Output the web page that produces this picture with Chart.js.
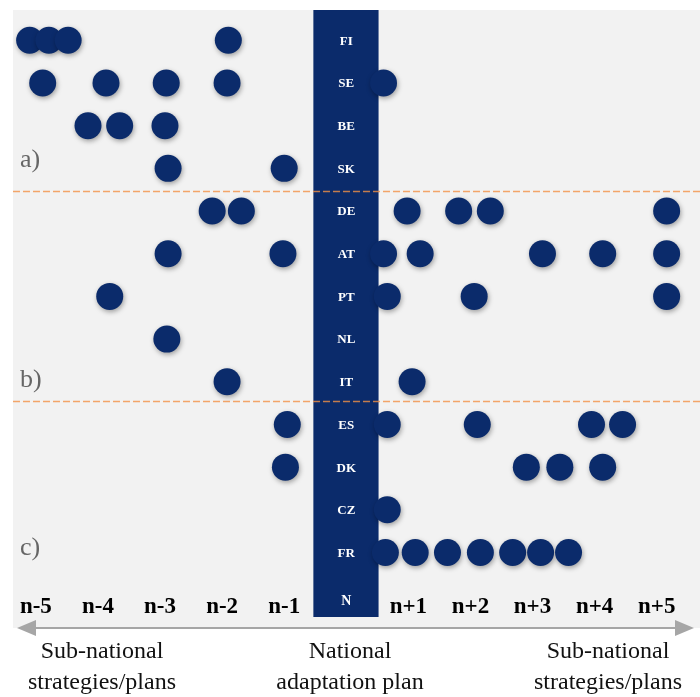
<!DOCTYPE html>
<html>
<head>
<meta charset="utf-8">
<script src="https://cdn.jsdelivr.net/npm/chart.js@4.4.1/dist/chart.umd.min.js"></script>
<style>
  html, body { margin: 0; padding: 0; background: #fff; }
  #wrap { width: 700px; height: 697px; position: relative; }
</style>
</head>
<body>
<div id="wrap"><canvas id="c"></canvas></div>
<script>
// rows top to bottom, columns n-5 .. n+5 (0 = national plan year)
const countries = ['FI', 'SE', 'BE', 'SK', 'DE', 'AT', 'PT', 'NL', 'IT', 'ES', 'DK', 'CZ', 'FR'];
const xLabels = ['n-5', 'n-4', 'n-3', 'n-2', 'n-1', 'N', 'n+1', 'n+2', 'n+3', 'n+4', 'n+5'];

// dot positions per country, in column units
const FI = [-5.10, -4.79, -4.48, -1.90];
const SE = [-4.89, -3.87, -2.90, -1.92, 0.60];
const BE = [-4.16, -3.65, -2.92];
const SK = [-2.87, -1.00];
const DE = [-2.16, -1.69, 0.98, 1.81, 2.32, 5.16];
const AT = [-2.87, -1.02, 0.60, 1.19, 3.16, 4.13, 5.16];
const PT = [-3.81, 0.66, 2.06, 5.16];
const NL = [-2.89];
const IT = [-1.92, 1.06];
const ES = [-0.95, 0.66, 2.11, 3.95, 4.45];
const DK = [-0.98, 2.90, 3.44, 4.13];
const CZ = [0.66];
const FR = [0.63, 1.11, 1.63, 2.16, 2.68, 3.13, 3.58];
const rows = [FI, SE, BE, SK, DE, AT, PT, NL, IT, ES, DK, CZ, FR];

const groups = ['a)', 'b)', 'c)'];
const groupRows = [2.8, 7.96, 11.9];
const dividers = [3.52, 8.45];

const NAVY = '#0b2b6b';
const SERIF = '"Liberation Serif", "Times New Roman", serif';

const points = [];
rows.forEach((xs, r) => xs.forEach(x => points.push({ x, y: r })));

const panel = {
  id: 'panel',
  beforeDraw(chart) {
    const { ctx, scales: { x } } = chart;
    ctx.save();
    ctx.fillStyle = '#fff';
    ctx.fillRect(0, 0, chart.width, chart.height);
    ctx.fillStyle = '#f2f2f2';
    ctx.fillRect(13, 10, chart.width - 13, 628 - 10);
    // national plan band
    const bl = x.getPixelForValue(-0.53), br = x.getPixelForValue(0.52);
    ctx.fillStyle = NAVY;
    ctx.fillRect(bl, 10, br - bl, 617 - 10);
    ctx.restore();
  },
  beforeDatasetsDraw(chart) {
    const { ctx, scales: { x, y } } = chart;
    ctx.save();
    ctx.fillStyle = '#fff';
    ctx.font = 'bold 13px ' + SERIF;
    ctx.textAlign = 'center';
    ctx.textBaseline = 'middle';
    countries.forEach((c, i) => ctx.fillText(c, x.getPixelForValue(0), y.getPixelForValue(i) + 1));
    ctx.fillStyle = '#666';
    ctx.font = '26px ' + SERIF;
    ctx.textAlign = 'left';
    groups.forEach((g, i) => ctx.fillText(g, 20, y.getPixelForValue(groupRows[i])));
    ctx.strokeStyle = 'rgba(242,145,70,0.8)';
    ctx.lineWidth = 1.5;
    ctx.setLineDash([7, 3]);
    dividers.forEach(d => {
      const py = Math.round(y.getPixelForValue(d)) + 0.5;
      ctx.beginPath();
      ctx.moveTo(13, py);
      ctx.lineTo(chart.width, py);
      ctx.stroke();
    });
    ctx.restore();
    // soft shadow under the dots
    ctx.save();
    ctx.shadowColor = 'rgba(0,0,0,0.35)';
    ctx.shadowBlur = 5;
    ctx.shadowOffsetX = 1;
    ctx.shadowOffsetY = 2;
  },
  afterDatasetsDraw(chart) {
    chart.ctx.restore();
  },
  afterDraw(chart) {
    const { ctx } = chart;
    const ay = 628;
    ctx.save();
    ctx.strokeStyle = '#a6a6a6';
    ctx.fillStyle = '#a6a6a6';
    ctx.lineWidth = 2;
    ctx.beginPath();
    ctx.moveTo(30, ay);
    ctx.lineTo(680, ay);
    ctx.stroke();
    ctx.beginPath();
    ctx.moveTo(17, ay); ctx.lineTo(36, ay - 8); ctx.lineTo(36, ay + 8); ctx.closePath();
    ctx.fill();
    ctx.beginPath();
    ctx.moveTo(694, ay); ctx.lineTo(675, ay - 8); ctx.lineTo(675, ay + 8); ctx.closePath();
    ctx.fill();
    ctx.fillStyle = '#111';
    ctx.font = '24px ' + SERIF;
    ctx.textAlign = 'center';
    ctx.textBaseline = 'middle';
    [[102, 'Sub-national', 'strategies/plans'], [350, 'National', 'adaptation plan'], [608, 'Sub-national', 'strategies/plans']]
      .forEach(([cx, l1, l2]) => {
        ctx.fillText(l1, cx, 652);
        ctx.fillText(l2, cx, 683);
      });
    ctx.restore();
  }
};

const noPad = s => { s.paddingLeft = 0; s.paddingRight = 0; s.paddingTop = 0; s.paddingBottom = 0; };

new Chart(document.getElementById('c'), {
  type: 'scatter',
  data: {
    datasets: [{
      data: points,
      backgroundColor: NAVY,
      borderWidth: 0,
      pointRadius: 13.5,
      pointHoverRadius: 13.5,
      clip: false
    }]
  },
  plugins: [panel],
  options: {
    responsive: true,
    maintainAspectRatio: false,
    animation: false,
    events: [],
    layout: { padding: { left: 13, top: 10, right: 0, bottom: 62 } },
    plugins: { legend: { display: false }, tooltip: { enabled: false } },
    scales: {
      x: {
        type: 'linear',
        min: -5.36,
        max: 5.48,
        afterBuildTicks: s => { s.ticks = xLabels.map((_, i) => ({ value: i - 5 })); },
        afterFit: noPad,
        grid: { display: false, drawTicks: false },
        border: { display: false },
        ticks: {
          padding: 14,
          autoSkip: false,
          maxRotation: 0,
          callback: v => xLabels[v + 5],
          color: c => (c.tick && c.tick.value === 0 ? '#fff' : '#000'),
          font: c => (c.tick && c.tick.value === 0
            ? { family: SERIF, size: 14, weight: 'bold' }
            : { family: SERIF, size: 23, weight: 'bold' })
        }
      },
      y: {
        type: 'linear',
        display: false,
        reverse: true,
        min: -0.628,
        max: 12.63,
        afterFit: noPad
      }
    }
  }
});
</script>
</body>
</html>
